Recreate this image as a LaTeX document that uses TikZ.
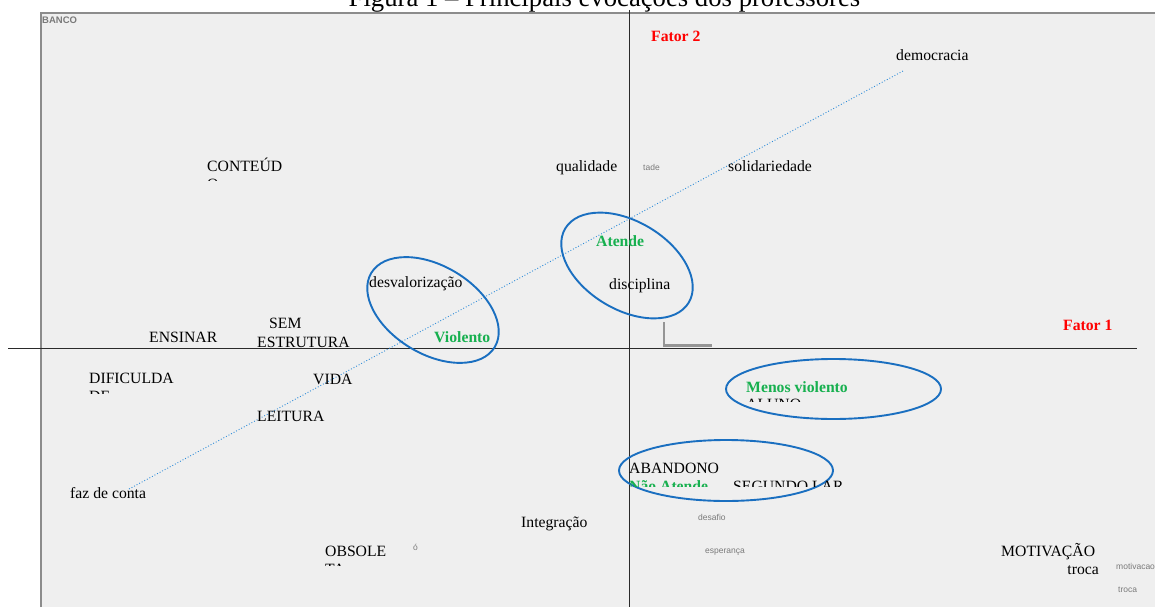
\documentclass[tikz,border=0pt]{standalone}
\usepackage{fontspec}
\setmainfont{Liberation Serif}
\setsansfont{Liberation Sans}
\definecolor{bgc}{HTML}{EFEFEF}
\definecolor{framec}{HTML}{8C8C8C}
\definecolor{axisc}{HTML}{2A2A2A}
\definecolor{ellc}{HTML}{1A6FC0}
\definecolor{dotc}{HTML}{2B8AD8}
\definecolor{grnc}{HTML}{17B04F}
\definecolor{redc}{HTML}{FF0000}
\definecolor{blurc}{HTML}{7A7A7A}
\begin{document}
\begin{tikzpicture}[x=1pt,y=-1pt,
  lbl/.style={anchor=base west, inner sep=0pt, font=\fontsize{15.7}{18}\selectfont, text=black},
  lblr/.style={lbl, anchor=base east},
  grn/.style={lbl, font=\fontsize{15.7}{18}\selectfont\bfseries, text=grnc},
  redl/.style={lbl, font=\fontsize{15.7}{18}\selectfont\bfseries, text=redc},
  blur/.style={inner sep=0pt, font=\fontsize{8.5}{9}\sffamily, text=blurc},
  ell/.style={draw=ellc, line width=1.9pt},
  axisline/.style={draw=axisc, line width=0.9pt},
  frameline/.style={draw=framec, line width=2.6pt},
  trend/.style={draw=dotc, line width=0.9pt, dotted}]
\useasboundingbox (0,0) rectangle (1155,607);
\clip (0,0) rectangle (1155,607);
\fill[white] (0,0) rectangle (1155,607);
\fill[bgc] (41,13) rectangle (1155,607);
% title (cut at the top, as in the source)
\node[anchor=base, inner sep=0pt, font=\fontsize{26.7}{30}\selectfont] (title) at (604.5,6.5) {Figura 1 -- Principais evocações dos professores};
\fill[bgc] (41,13) rectangle (1155,20);
\draw[frameline] (41,607) -- (41,13) -- (1155,13);
\node[blur, anchor=west, font=\fontsize{9.5}{10}\sffamily\bfseries] (banco) at (42,20) {BANCO};
% axes
\coordinate (hl) at (8,348);
\coordinate (hr) at (1137,348);
\coordinate (vt) at (629,10);
\coordinate (vb) at (629,607);
\draw[axisline] (hl) -- (hr);
\draw[axisline] (vt) -- (vb);
% gray L mark
\draw[draw=blurc!80, line width=2.2pt] (664,322) -- (664,345.5) -- (712,345.5);
% trend line
\coordinate (tA) at (129,489);
\coordinate (tB) at (903,71);
\draw[trend] (tA) -- (tB);
% ellipses
\draw[ell, rotate around={-31:(433,310)}] (433,310) ellipse [x radius=72, y radius=44];
\draw[ell, rotate around={-31:(627,265.5)}] (627,265.5) ellipse [x radius=72, y radius=44];
\draw[ell] (833.5,389) ellipse [x radius=107.5, y radius=30];
\draw[ell] (726,470.5) ellipse [x radius=107, y radius=30.5];
% labels
\node[redl] (f2) at (651,42) {Fator 2};
\node[redl] (f1) at (1063,330) {Fator 1};
\node[lbl] (demo) at (896,60.5) {democracia};
\node[lbl] (cont) at (207,171) {CONTEÚD};
\begin{scope}
\clip (150,100) rectangle (320,180);
\node[lbl] (cont2) at (207,189) {O};
\end{scope}
\node[lbl] (qual) at (556,171) {qualidade};
\node[blur, anchor=west] (tade) at (643,167) {tade};
\node[lbl] (soli) at (728,171) {solidariedade};
\node[grn] (aten) at (596,246) {Atende};
\node[lbl] (desv) at (369,287) {desvalorização};
\node[lbl] (disc) at (609,289) {disciplina};
\node[grn] (viol) at (434,342) {Violento};
\node[lbl] (ensi) at (149,342) {ENSINAR};
\node[lbl] (sem) at (269,328) {SEM};
\node[lbl] (estr) at (257,347) {ESTRUTURA};
\node[lbl] (difi) at (89,383.5) {DIFICULDA};
\begin{scope}
\clip (60,386) rectangle (200,393);
\node[lbl] (difi2) at (89,401.5) {DE};
\end{scope}
\node[lbl] (vida) at (313,384) {VIDA};
\node[lbl] (leit) at (257,421) {LEITURA};
\node[grn] (menos) at (746,392) {Menos violento};
\begin{scope}
\clip (700,395) rectangle (900,401);
\node[lbl] (aluno) at (746,409) {ALUNO};
\end{scope}
\node[lbl] (aban) at (629,473) {ABANDONO};
\begin{scope}
\clip (600,476) rectangle (900,486);
\node[grn] (nao) at (629,491.5) {Não Atende};
\node[lbl] (segu) at (733,491.5) {SEGUNDO LAR};
\end{scope}
\node[lbl] (faz) at (70,498) {faz de conta};
\node[lbl] (inte) at (521,527) {Integração};
\node[blur, anchor=west] (ob) at (413,547) {ó};
\node[blur, anchor=west] (desa) at (698,517) {desafio};
\node[blur, anchor=west] (espe) at (705,552) {esperança};
\node[lbl] (obso) at (325,556) {OBSOLE};
\begin{scope}
\clip (300,558) rectangle (420,565.5);
\node[lbl] (obso2) at (325,574) {TA};
\end{scope}
\node[lbl] (moti) at (1001,556) {MOTIVAÇÃO};
\node[lblr] (troc) at (1099,574) {troca};
\node[blur, anchor=west] (moti2) at (1116,566) {motivacao};
\node[blur, anchor=west] (troc2) at (1118,590) {troca};
\end{tikzpicture}
\end{document}
